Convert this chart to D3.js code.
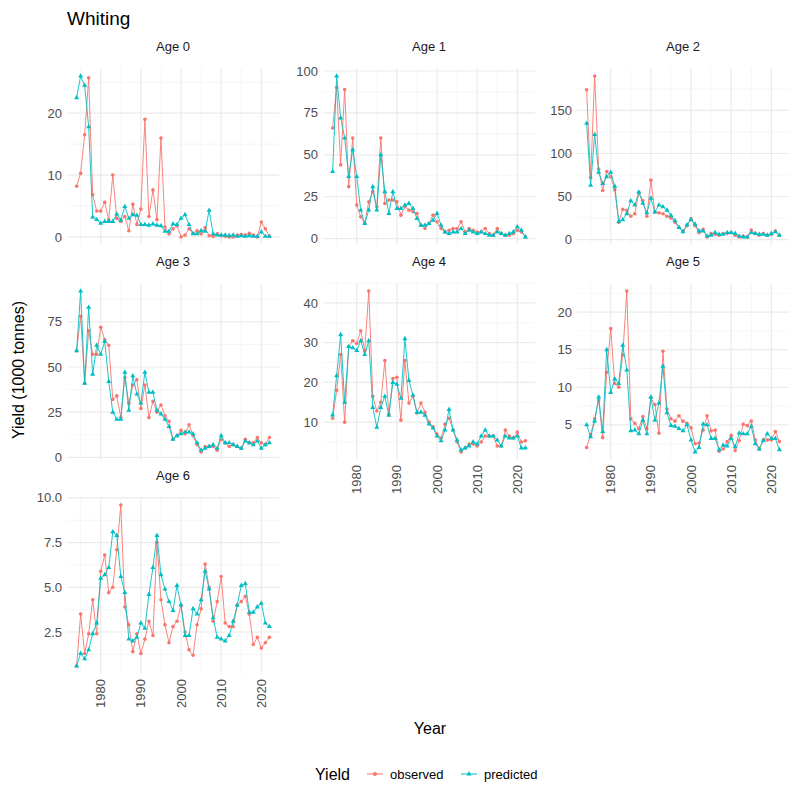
<!DOCTYPE html>
<html>
<head>
<meta charset="utf-8">
<script src="https://cdn.jsdelivr.net/npm/d3@7"></script>
<style>
  body { margin: 0; background: #fff; font-family: "Liberation Sans", Arial, sans-serif; }
</style>
</head>
<body>
<svg id="chart"></svg>
<script>
var width = 800,
    height = 800;

// years 1974..2022
var years = d3.range(1974, 2023);
var ages = ["Age 0", "Age 1", "Age 2", "Age 3", "Age 4", "Age 5", "Age 6"];

var observed = [
  [8.2,10.3,16.5,25.7,6.8,4.2,4.2,5.6,2.8,10,3,2.5,3.3,1,5.3,2,4.5,19,3.3,7.6,2.8,16,1.6,0.5,1.3,1.8,0,0.3,1.3,0.6,1,0.5,1.5,0.2,0.1,0.5,0.2,0.1,0,0,0.3,0.4,0.3,0.6,0.3,0,2.4,1.3,0.1],
  [66,90,44,89,31,60,20,13,9,22,28,19,60,21,23,23,22,14,19,17,16,15,8,6,9,14,10,6,4,5,6,6,10,4,6,5,4,4,6,3,2,6,3,2,2,3,5,4,1],
  [174,72,190,82,57,79,73,58,20,35,34,27,30,55,45,27,69,32,31,30,27,25,20,14,10,16,24,16,8,12,3,7,6,5,7,7,8,5,3,4,3,11,7,5,7,5,6,10,5],
  [59,78,41,70,57,57,72,65,62,32,34,22,44,30,40,43,27,40,22,31,25,29,23,20,10,12,15,13,18,12,7,3,6,6,6,4,10,8,6,7,6,5,10,8,8,11,8,7,11],
  [11,18,27,10,29,30.5,29.8,33,28,43,16.5,12.8,15,25.5,12,21,21.3,10.5,25.5,14.8,16.5,12.3,14.8,12.5,10,8.8,7,6,9.5,11,8,5,2.5,3.5,4.5,4.5,4,5,6.5,6.5,6.5,4,4,8,6.5,6,7.5,5,5.3],
  [2,3.7,5.8,8.3,3.3,12,17.8,10.5,10,14.3,22.8,5.8,5.2,4.5,6.1,4.5,8.6,7.7,3.9,14.8,7.1,5.8,5.5,6.2,5.5,5.2,4.6,2.5,2.6,4.3,6.2,4.2,4.3,1.5,1.8,2.8,3.6,1.6,2.9,5.1,4.9,5.5,3,1.8,3,3,3,4.1,2.8],
  [0.6,3.5,1.3,2.4,4.3,2.4,5.9,6.8,4.7,5,7.1,9.6,3.9,2.9,1.4,2.4,1.3,2.1,3.1,2.3,7.5,4.3,2.9,1.9,2.8,3.1,4,2.5,1.5,1.2,2.9,3.8,6.3,5,3.1,4.2,5.6,3,2.8,2.8,4,4.2,4.5,3.5,1.8,2.2,1.6,1.9,2.2]
];

var predicted = [
  [22.5,26,24.5,17.8,3.2,2.8,2.2,2.5,2.5,2.5,3.7,2.7,4.9,3,3.6,3.5,2,2,1.9,2.1,1.9,1.8,0.9,0.9,2.1,2,3,3.6,2,0.5,0.5,1,0.9,4.3,0.5,0.3,0.3,0.3,0.2,0.3,0.1,0.2,0.1,0.2,0.1,0.1,0.8,0.1,0.1],
  [40,97,72,60,37,53,37,17,9,17,31,17,50,28,15,28,18,18,20,21,18,12,8,8,9,11,15,8,4,3,4,4,6,3,5,4,3,4,3,2,2,4,3,2,3,4,7,5,1],
  [135,63,122,78,65,73,78,62,21,23,30,45,40,55,42,31,48,32,40,38,34,28,22,14,9,17,23,18,10,10,4,5,8,6,6,8,8,7,4,3,3,8,7,6,6,5,7,9,5],
  [59,92,41,83,46,62,57,64,42,25,21,21,47,26,45,35,30,47,36,36,26,24,21,17,10,12,13,14,14,13,8,4,5,6,7,5,12,8,8,7,6,5,9,8,7,9,5,7,8],
  [11.8,21.7,32,15,29,28.7,28,30.5,27,30.5,13.7,8.7,13.7,16.5,11.7,20,19.5,16,31,20.5,16.8,12.5,12.5,11.7,9.5,8.5,6.5,5.3,8,13.2,8,5.5,3,3.5,4,5,4.5,6.5,8,6.5,6.5,5.5,4,6.5,6,6,6.5,3.5,3.5],
  [5,3.4,5.5,8.7,4.1,15,9.3,11.1,10.5,15.6,12.3,4.2,4.3,3.8,5.6,3.8,8.7,5.6,7.9,12.8,6.6,4.9,4.8,4.5,4.2,5,3,1.4,2,5.1,5,3.2,3.2,1.7,2.3,2.2,3.2,2.1,3.9,3.8,3.8,4.8,2.5,1.8,2.9,3.8,3.2,3.2,1.7],
  [0.6,1.3,1,1.5,2.4,3,5.5,5.7,6.1,8.1,7.9,5.6,4.7,2.1,2,2.2,3,2.7,4.6,6.1,7.9,5.7,4.9,4.2,3.7,5.1,4,2.3,2.3,3.8,3.5,4.3,5.9,4.9,3.3,2.2,2.1,2.0,2.3,3.1,4,5.1,5.2,3.6,3.6,3.9,4.1,3,2.8]
];

var yTicks = [
  [0, 10, 20],
  [0, 25, 50, 75, 100],
  [0, 50, 100, 150],
  [0, 25, 50, 75],
  [10, 20, 30, 40],
  [5, 10, 15, 20],
  [2.5, 5.0, 7.5, 10.0]
];
var yearTicks = [1980, 1990, 2000, 2010, 2020];
var seriesNames = ["observed", "predicted"];
var colors = ["#F8766D", "#00BFC4"];

var colLeft = [67, 323, 577],
    rowTop = [68, 283, 497],
    panelW = 212,
    panelH = 177;

var svg = d3.select('#chart')
  .attr('width', width)
  .attr('height', height);

var x = d3.scaleLinear()
  .domain([1974 - 2.4, 2022 + 2.4])
  .range([0, panelW]);

var triangle = d3.symbol().type(d3.symbolTriangle).size(11);

ages.forEach(function(age, i) {
  var col = i % 3, row = Math.floor(i / 3);
  var g = svg.append('g').attr('transform', 'translate(' + colLeft[col] + ',' + rowTop[row] + ')');
  var all = observed[i].concat(predicted[i]);
  var lo = d3.min(all), hi = d3.max(all), pad = (hi - lo) * 0.05;
  var y = d3.scaleLinear().domain([lo - pad, hi + pad]).range([panelH, 0]);

  // minor grid
  var step = yTicks[i][1] - yTicks[i][0];
  var minorY = d3.range(yTicks[i][0] - step * 1.5, yTicks[i][yTicks[i].length - 1] + step, step)
    .filter(function(v) { return v >= y.domain()[0] && v <= y.domain()[1]; });
  g.selectAll('.minory').data(minorY).join('line')
    .attr('x1', 0).attr('x2', panelW)
    .attr('y1', d => y(d)).attr('y2', d => y(d))
    .attr('stroke', '#f0f0f0').attr('stroke-width', 0.6);
  g.selectAll('.minorx').data([1975, 1985, 1995, 2005, 2015]).join('line')
    .attr('x1', d => x(d)).attr('x2', d => x(d))
    .attr('y1', 0).attr('y2', panelH)
    .attr('stroke', '#f0f0f0').attr('stroke-width', 0.6);

  // major grid
  g.selectAll('.majy').data(yTicks[i]).join('line')
    .attr('x1', 0).attr('x2', panelW)
    .attr('y1', d => y(d)).attr('y2', d => y(d))
    .attr('stroke', '#ebebeb').attr('stroke-width', 1.2);
  g.selectAll('.majx').data(yearTicks).join('line')
    .attr('x1', d => x(d)).attr('x2', d => x(d))
    .attr('y1', 0).attr('y2', panelH)
    .attr('stroke', '#ebebeb').attr('stroke-width', 1.2);

  // y tick labels
  var fmt = i === 6 ? d3.format('.1f') : d3.format('d');
  g.selectAll('.ylab').data(yTicks[i]).join('text')
    .attr('x', -5).attr('y', d => y(d)).attr('dy', '0.35em')
    .attr('text-anchor', 'end')
    .attr('font-size', 13).attr('fill', '#4d4d4d')
    .text(d => fmt(d));

  // strip label
  g.append('text')
    .attr('x', panelW / 2).attr('y', -17)
    .attr('text-anchor', 'middle')
    .attr('font-size', 13).attr('fill', '#1a1a1a')
    .text(age);

  // x tick labels for bottom panels in each column
  if (i >= 4) {
    g.selectAll('.xlab').data(yearTicks).join('text')
      .attr('transform', d => 'translate(' + x(d) + ',' + (panelH + 5) + ') rotate(-90)')
      .attr('dy', '0.35em')
      .attr('text-anchor', 'end')
      .attr('font-size', 13).attr('fill', '#4d4d4d')
      .text(d => d);
  }

  [observed[i], predicted[i]].forEach(function(vals, s) {
    var pts = vals.map(function(v, k) { return [years[k], v]; });
    g.append('path')
      .datum(pts)
      .attr('fill', 'none')
      .attr('stroke', colors[s])
      .attr('stroke-width', 0.9)
      .attr('d', d3.line().x(d => x(d[0])).y(d => y(d[1])));
    if (s === 0) {
      g.selectAll('.obs').data(pts).join('circle')
        .attr('cx', d => x(d[0])).attr('cy', d => y(d[1]))
        .attr('r', 1.8).attr('fill', colors[s]);
    } else {
      g.selectAll('.pred').data(pts).join('path')
        .attr('transform', d => 'translate(' + x(d[0]) + ',' + y(d[1]) + ')')
        .attr('d', triangle).attr('fill', colors[s]);
    }
  });
});

// titles
svg.append('text').attr('x', 67).attr('y', 25)
  .attr('font-size', 19).attr('fill', '#000').text('Whiting');
svg.append('text').attr('x', 430).attr('y', 734)
  .attr('text-anchor', 'middle').attr('font-size', 16).attr('fill', '#000').text('Year');
svg.append('text').attr('transform', 'translate(24,370) rotate(-90)')
  .attr('text-anchor', 'middle').attr('font-size', 16).attr('fill', '#000').text('Yield (1000 tonnes)');

// legend
var legend = svg.append('g').attr('transform', 'translate(315,774)');
legend.append('text').attr('x', 0).attr('y', 0).attr('dy', '0.35em')
  .attr('font-size', 16).attr('fill', '#000').text('Yield');
var keyX = [52, 146];
seriesNames.forEach(function(name, s) {
  var k = legend.append('g').attr('transform', 'translate(' + keyX[s] + ',0)');
  k.append('line').attr('x1', 0).attr('x2', 16).attr('stroke', colors[s]).attr('stroke-width', 1);
  if (s === 0) k.append('circle').attr('cx', 8).attr('r', 2).attr('fill', colors[s]);
  else k.append('path').attr('transform', 'translate(8,0)').attr('d', triangle).attr('fill', colors[s]);
  k.append('text').attr('x', 23).attr('dy', '0.35em').attr('font-size', 13).attr('fill', '#000').text(name);
});
</script>
</body>
</html>
